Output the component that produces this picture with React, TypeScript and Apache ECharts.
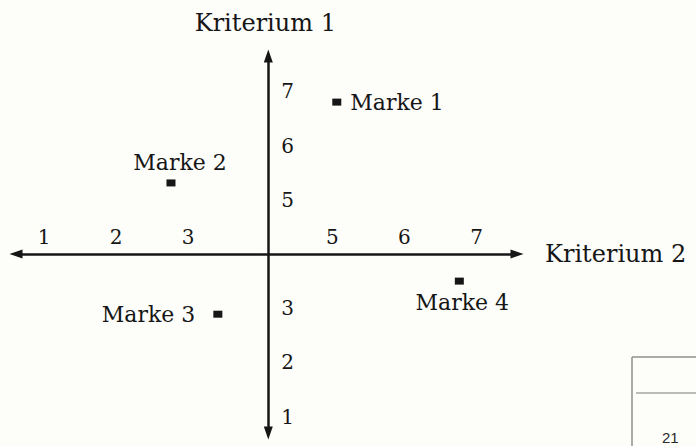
import React, { useEffect, useRef } from "react";
import * as echarts from "echarts";

// Positioning map: four brands rated on two criteria (scale 1–7, axes cross at 4)
const brands = ["Marke 1", "Marke 2", "Marke 3", "Marke 4"];
const kriterium2 = [4.95, 2.65, 3.3, 6.65];
const kriterium1 = [6.8, 5.31, 2.89, 3.5];
const xTicks = [1, 2, 3, 5, 6, 7];
const yTicks = [1, 2, 3, 5, 6, 7];
const xName = "Kriterium 2";
const yName = "Kriterium 1";
const crossing = 4;
const pageNumber = "21";

const X_MIN = 0.5;
const X_MAX = 7.45;
const Y_MIN = 0.7;
const Y_MAX = 7.65;
const GRID = { left: 16, top: 56, width: 501, height: 377 };

const FONT = "DejaVu Serif";
const INK = "#161616";

// where each brand's name sits relative to its marker
const labelPlacement: Record<string, any> = {
  "Marke 1": { position: "right", distance: 9 },
  "Marke 2": { position: "top", distance: 6, offset: [9, 0] },
  "Marke 3": { position: "left", distance: 18 },
  "Marke 4": { position: "bottom", distance: 7, offset: [3, 0] },
};

export default function App() {
  const ref = useRef<HTMLDivElement>(null);

  useEffect(() => {
    if (!ref.current) return;
    const chart = echarts.init(ref.current, null, { renderer: "svg" });

    // shift the axis lines so they cross at the scale midpoint
    const xAxisOffset = -((crossing - Y_MIN) / (Y_MAX - Y_MIN)) * GRID.height;
    const yAxisOffset = -((crossing - X_MIN) / (X_MAX - X_MIN)) * GRID.width;

    const axisLine = {
      show: true,
      onZero: false,
      symbol: ["triangle", "triangle"],
      symbolSize: [9, 13],
      lineStyle: { color: INK, width: 2.5 },
    };

    chart.setOption({
      animation: false,
      backgroundColor: "#fdfdfa",
      grid: { ...GRID, containLabel: false },
      xAxis: {
        type: "value",
        min: X_MIN,
        max: X_MAX,
        position: "bottom",
        offset: xAxisOffset,
        name: xName,
        nameLocation: "end",
        nameGap: 28,
        nameTextStyle: {
          fontFamily: FONT,
          fontSize: 24,
          color: INK,
          align: "left",
          verticalAlign: "middle",
        },
        axisLine,
        axisTick: { show: false },
        splitLine: { show: false },
        axisLabel: {
          inside: true,
          customValues: xTicks,
          margin: 7,
          padding: [0, 16, 0, 0],
          fontFamily: FONT,
          fontSize: 20,
          color: INK,
        },
      },
      yAxis: {
        type: "value",
        min: Y_MIN,
        max: Y_MAX,
        position: "left",
        offset: yAxisOffset,
        name: yName,
        nameLocation: "end",
        nameGap: 21,
        nameTextStyle: {
          fontFamily: FONT,
          fontSize: 24,
          color: INK,
          align: "center",
          verticalAlign: "bottom",
          padding: [0, 6, 0, 0],
        },
        axisLine,
        axisTick: { show: false },
        splitLine: { show: false },
        axisLabel: {
          inside: true,
          customValues: yTicks,
          margin: 13,
          fontFamily: FONT,
          fontSize: 20,
          color: INK,
        },
      },
      series: [
        {
          type: "scatter",
          symbol: "rect",
          symbolSize: [9, 7],
          itemStyle: { color: INK, opacity: 1 },
          label: {
            show: true,
            formatter: "{b}",
            fontFamily: FONT,
            fontSize: 22,
            color: INK,
          },
          data: brands.map((name, i) => ({
            name,
            value: [kriterium2[i], kriterium1[i]],
            label: labelPlacement[name],
          })),
        },
      ],
      graphic: [
        {
          type: "group",
          silent: true,
          children: [
            {
              type: "line",
              shape: { x1: 632, y1: 357, x2: 696, y2: 357 },
              style: { stroke: "#8f8f8f", lineWidth: 1.5 },
            },
            {
              type: "line",
              shape: { x1: 632, y1: 357, x2: 632, y2: 446 },
              style: { stroke: "#8f8f8f", lineWidth: 1.5 },
            },
            {
              type: "line",
              shape: { x1: 636, y1: 393, x2: 696, y2: 393 },
              style: { stroke: "#a5a5a5", lineWidth: 1.5 },
            },
            {
              type: "text",
              x: 662,
              y: 445,
              style: {
                text: pageNumber,
                font: "15px 'Liberation Sans'",
                fill: "#2a2a2a",
                verticalAlign: "bottom",
              },
            },
          ],
        },
      ],
    });

    return () => chart.dispose();
  }, []);

  return (
    <div
      ref={ref}
      style={{
        position: "fixed",
        left: 0,
        top: 0,
        width: 696,
        height: 446,
        background: "#fdfdfa",
      }}
    />
  );
}
